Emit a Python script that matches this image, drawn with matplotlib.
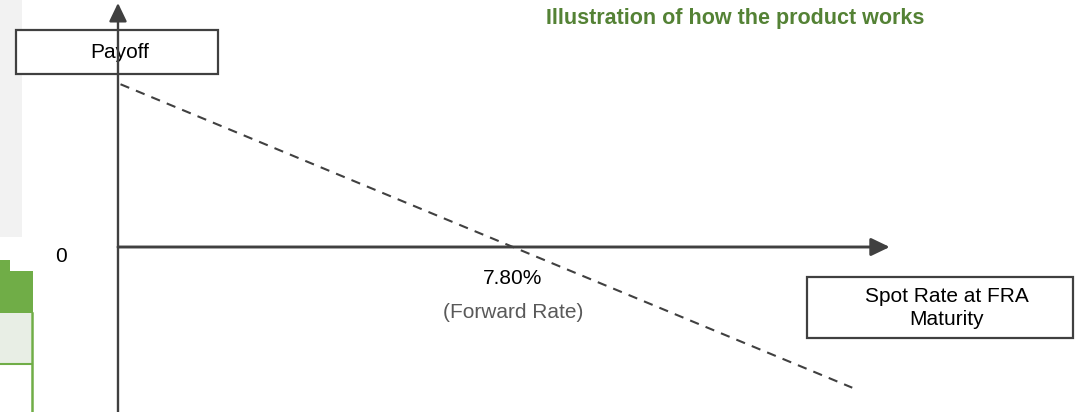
import matplotlib
matplotlib.use("Agg")
import matplotlib.pyplot as plt
from matplotlib.patches import Rectangle

plt.rcParams['font.family'] = ['Liberation Sans', 'DejaVu Sans']

# FRA payoff: receiver gains when the spot rate settles below the forward rate
forward_rate = 7.80
spot_rates = [0.05, 14.5]
payoff = [forward_rate - s for s in spot_rates]

title = "Illustration of how the product works"
y_label = "Payoff"
x_label = "Spot Rate at FRA\nMaturity"
forward_note = "(Forward Rate)"
zero_label = "0"

AXIS = "#404040"
GREEN_TITLE = "#548235"
GREEN = "#70ad47"
GREEN_LIGHT = "#e8eee5"
PANEL = "#f2f2f2"

W, H = 1076, 412
fig = plt.figure(figsize=(W / 100, H / 100), dpi=100)

# layout layer in pixel coordinates (panels, boxes, text)
lay = fig.add_axes([0, 0, 1, 1])
lay.set_xlim(0, W)
lay.set_ylim(H, 0)
lay.axis("off")

# chart layer in data coordinates (spot rate %, payoff)
ax = fig.add_axes([0, 0, 1, 1])
ax.set_xlim(-2.330, 18.918)
ax.set_ylim(-7.857, 11.762)
ax.axis("off")
ax.patch.set_alpha(0)

# neighbouring slide content on the left edge
lay.add_patch(Rectangle((0, 0), 22, 237, color=PANEL, lw=0, zorder=0))
lay.add_patch(Rectangle((0, 260), 10, 12, color=GREEN, lw=0, zorder=0))
lay.add_patch(Rectangle((0, 271), 33, 42, color=GREEN, lw=0, zorder=0))
lay.add_patch(Rectangle((0, 313), 31, 51, facecolor=GREEN_LIGHT, edgecolor="none", zorder=0))
lay.plot([0, 32], [364, 364], color=GREEN, lw=1.5, zorder=1)
lay.plot([32, 32], [313, H], color=GREEN, lw=1.8, zorder=1)

# axes with arrow heads
v_arrow = dict(arrowstyle="-|>,head_length=0.75,head_width=0.36", mutation_scale=15,
               lw=1.7, color=AXIS, shrinkA=0, shrinkB=0)
h_arrow = dict(v_arrow, lw=2.1)
ax.annotate("", xy=(0, 11.62), xytext=(0, -7.857), arrowprops=v_arrow, zorder=2)
ax.annotate("", xy=(15.24, 0), xytext=(0, 0), arrowprops=h_arrow, zorder=2)

# payoff line
ax.plot(spot_rates, payoff, color=AXIS, lw=1.5, ls=(0, (4.5, 3.5)), zorder=3)

# labels
ax.text(forward_rate, -1.52, f"{forward_rate:.2f}%", ha="center", va="center",
        fontsize=15, color="black")
ax.text(forward_rate, -3.10, forward_note, ha="center", va="center",
        fontsize=15, color="#595959")
lay.text(61, 256, zero_label, ha="center", va="center", fontsize=15, color="black")

# axis title boxes
lay.add_patch(Rectangle((16, 30), 202, 44, facecolor="white", edgecolor=AXIS,
                        lw=1.6, zorder=5))
lay.text(120, 52, y_label, ha="center", va="center", fontsize=15, zorder=6)
lay.add_patch(Rectangle((807, 277), 266, 61, facecolor="white", edgecolor=AXIS,
                        lw=1.6, zorder=5))
lay.text(947, 308, x_label, ha="center", va="center", fontsize=15,
         linespacing=1.25, zorder=6)

lay.text(735, 18, title, ha="center", va="center", fontsize=15.5,
         fontweight="bold", color=GREEN_TITLE)

fig.savefig("out.png", dpi=100)
